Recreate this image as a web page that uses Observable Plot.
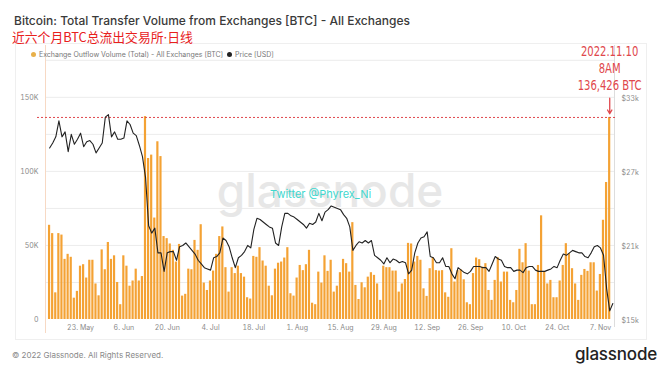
<!DOCTYPE html>
<html><head><meta charset="utf-8">
<script src="https://cdn.jsdelivr.net/npm/d3@7"></script>
<script src="https://cdn.jsdelivr.net/npm/@observablehq/plot@0.6"></script>
<style>
body{margin:0;background:#fff;}
#wrap{position:relative;width:660px;height:372px;overflow:hidden;font-family:Inter,"Noto Sans",sans-serif;background:#fff;}
#wrap svg{position:absolute;left:0;top:0;}
.abs{position:absolute;white-space:nowrap;line-height:1;}
.dot{display:inline-block;width:5px;height:5px;border-radius:50%;margin-right:3px;vertical-align:middle;position:relative;top:-1px;}
</style></head><body>
<div id="wrap">
  <div class="abs" style="left:15px;top:43px;width:632px;height:297px;border:1px solid #efefef;box-sizing:border-box"></div>
  <div id="chart"></div>
  <div class="abs" id="title" style="left:14px;top:15px;font-size:12px;font-weight:500;color:#3a3a3a;">Bitcoin: Total Transfer Volume from Exchanges [BTC] - All Exchanges</div>
  <div class="abs" id="sub" style="left:12px;top:31px;font-size:12.8px;color:#e8201c;font-family:'Noto Sans CJK SC',sans-serif;">近六个月BTC总流出交易所<span style="font-family:Inter,sans-serif">·</span>日线</div>
  <div class="abs" style="left:31px;top:51px;font-size:7px;color:#777;"><span class="dot" style="background:#e8b04a"></span>Exchange Outflow Volume (Total) - All Exchanges [BTC]</div>
  <div class="abs" style="left:227px;top:51px;font-size:7px;color:#777;"><span class="dot" style="background:#222"></span>Price [USD]</div>
  <div class="abs" style="left:270px;top:189px;font-size:11px;color:#3fd8cf;">Twitter @Phyrex_Ni</div>
  <div class="abs" style="left:12px;top:351px;font-size:8px;color:#8a8a8a;">© 2022 Glassnode. All Rights Reserved.</div>
  <div class="abs" style="left:575px;top:346px;font-size:17px;font-weight:500;color:#222;letter-spacing:-0.2px;">glassnode</div>
</div>
<script>
// Daily exchange outflow volume (thousand BTC), 13 May 2022 -> 10 Nov 2022
const outflowK = [
 63.6,58,18,58,57,40.6,44,42,14.4,19,36,37,28,40,40,24,16,47,33.6,52,40.6,43,25,10,43,36,22.5,26,34,26,29,
 137,
 108.7,111,68.5,120,110,56,54.6,51,46.7,38.8,50.7,15.8,17,34,33.6,53.4,46.7,64,24.6,19.6,26,32.7,44,56,62.5,35,18.5,
 35,
 31,36,31,28.6,14.7,13.8,42.6,42,48.5,39.5,36,22.5,16,34,38,38.8,41.5,48.5,17.4,15.8,28,36.5,33,37,46.7,11,10,32,24.6,43,
 32.5,40,18.5,22.5,31.6,40.6,37.7,32,65.4,23,13.5,24.8,21.4,28.6,31.6,29.8,24,12.9,36,35,35,32.7,32.7,18.5,24,27,51.4,51,38.8,42.6,40,
 20.7,15.6,34.3,41.7,33,32.7,33,18,15,47.8,25.3,33,33.6,26.8,11.3,10,31,41.5,40.4,35.4,37.7,19.6,12.9,26.4,41.7,25.3,32,32,12.9,11.3,
 19.6,47.4,38.3,51.2,32.7,10,10,36.5,70,32,24,26.4,14.7,14.7,26,36.5,51.2,44.4,34.3,24,12.9,29.8,33.8,32.5,38.3,38.3,19.2,30.4,67,92.5,136.426
];
// Daily BTC price (thousand USD), 13 May 2022 -> 11 Nov 2022
const priceK = [
 28.9,29.3,29.8,31.1,29.8,30.2,28.6,30.0,29.2,29.6,30.1,29.0,29.4,29.5,29.2,28.5,28.9,29.3,31.4,31.6,
 29.8,30.2,29.6,29.6,29.7,31.1,30.8,30.1,29.9,29.1,28.2,26.5,22.6,22.0,22.4,20.4,20.4,18.9,20.4,20.5,
 20.5,19.8,20.9,21.0,21.2,20.9,20.6,20.3,19.8,19.5,19.2,19.1,19.0,20.0,20.1,20.4,21.6,21.4,20.9,20.0,
 19.2,20.0,20.2,20.5,21.0,20.8,22.3,23.2,23.1,22.9,22.7,22.5,22.4,21.2,21.0,22.5,23.6,23.6,23.4,23.3,
 23.1,22.9,22.7,22.4,22.8,22.7,22.9,23.6,23.0,23.7,23.9,24.2,24.1,24.0,23.9,23.5,23.2,22.5,20.6,21.0,
 21.3,21.2,21.4,21.2,21.4,20.2,20.0,19.8,19.5,20.0,19.6,19.9,19.8,19.6,19.7,19.6,18.7,19.0,20.4,21.2,
 21.6,21.7,22.1,20.1,20.0,19.6,19.6,20.0,19.3,19.3,18.7,18.3,19.2,19.0,18.8,18.7,18.9,19.3,19.3,19.3,
 19.2,19.2,18.9,19.5,20.1,19.9,19.8,19.3,19.2,19.2,18.9,19.0,19.0,18.8,19.2,19.3,19.3,19.0,18.9,18.9,
 18.9,19.0,19.1,19.3,19.2,19.8,20.3,20.2,20.4,20.6,20.5,20.4,20.4,20.1,20.0,20.4,20.9,21.0,20.8,20.2,
 17.5,15.7,16.3
];
const tickDates = ["2022-05-23","2022-06-06","2022-06-20","2022-07-04","2022-07-18","2022-08-01","2022-08-15",
 "2022-08-29","2022-09-12","2022-09-26","2022-10-10","2022-10-24","2022-11-07"];
const leftTicks = [0, 50000, 100000, 150000];
const gridVals = [25000, 50000, 75000, 100000, 125000, 150000, 175000];
const annotationLines = ["2022.11.10", "8AM"];

const start = new Date("2022-05-13T00:00Z");
const volData = outflowK.map((v, i) => ({date: d3.utcDay.offset(start, i), value: v * 1000}));
const priceData = priceK.map((p, i) => ({date: d3.utcDay.offset(start, i), price: p * 1000}));
const peak = volData[volData.length - 1];
const toVol = p => (p - 15000) / 0.12;
const xDomain = [new Date("2022-05-11T16:00Z"), new Date("2022-11-11T13:00Z")];
const red = "#e0474c";

const chart = Plot.plot({
  width: 660, height: 372,
  marginLeft: 45, marginRight: 46, marginTop: 45, marginBottom: 53,
  style: {background: "transparent", fontFamily: "Inter, sans-serif", fontSize: "7px", color: "#8a8a8a", overflow: "visible"},
  x: {type: "utc", domain: xDomain},
  y: {domain: [0, 185000]},
  marks: [
    Plot.gridY(gridVals, {stroke: "#ececec", strokeOpacity: 1}),
    Plot.ruleX([xDomain[0]], {stroke: "#f7d9c4", insetBottom: -14}),
    Plot.ruleX([xDomain[1]], {stroke: "#dddddd", insetBottom: -8}),
    Plot.text(["glassnode"], {frameAnchor: "middle", dy: 10, fontSize: 46, fontWeight: 500, fill: "#e7e7e7"}),
    Plot.rectY(volData, {x1: d => d3.utcHour.offset(d.date, -8.5), x2: d => d3.utcHour.offset(d.date, 8.5), y: "value", fill: "#f4a234"}),
    Plot.ruleY([peak.value], {stroke: red, strokeDasharray: "2,2", strokeWidth: 1, insetLeft: -8, insetRight: -2}),
    Plot.line(priceData, {x: "date", y: d => toVol(d.price), stroke: "#222", strokeWidth: 1.1}),
    Plot.axisY({anchor: "left", ticks: leftTicks, tickFormat: v => v ? v / 1000 + "K" : "0", tickSize: 0, tickPadding: 7, label: null}),
    Plot.axisY({anchor: "right", ticks: leftTicks, tickFormat: v => "$" + (15 + v * 0.12 / 1000) + "k", tickSize: 0, tickPadding: 7, dy: 1, label: null}),
    Plot.axisX({ticks: tickDates.map(s => new Date(s + "T00:00Z")), tickFormat: d3.utcFormat("%-d. %b"), tickSize: 0, tickPadding: 6, label: null}),
    Plot.arrow([peak], {x: "date", y1: d => d.value + 13000, y2: d => d.value + 2500, stroke: red, strokeWidth: 1.3, headLength: 5}),
    Plot.text([peak], {x: "date", y: "value", text: d => annotationLines.concat([d3.format(",")(d.value) + " BTC"]).join("\n"),
      lineAnchor: "bottom", dy: -27, lineHeight: 1.2, fontSize: 14.5, fill: red,
      fontFamily: "'Liberation Sans Narrow', 'DejaVu Sans Condensed', sans-serif"})
  ]
});
document.getElementById("chart").appendChild(chart);

// squeeze the annotation text horizontally so it reads as a narrow face
const textGroups = chart.querySelectorAll('g[aria-label="text"]');
const ann = textGroups[textGroups.length - 1];
const bb = ann.getBBox();
const s = Math.min(1, 64 / bb.width);
const cx = bb.x + bb.width / 2;
const wrapG = document.createElementNS("http://www.w3.org/2000/svg", "g");
wrapG.setAttribute("transform", `translate(${cx},0) scale(${s},1) translate(${-cx},0)`);
ann.parentNode.insertBefore(wrapG, ann);
wrapG.appendChild(ann);
</script>
</body></html>
